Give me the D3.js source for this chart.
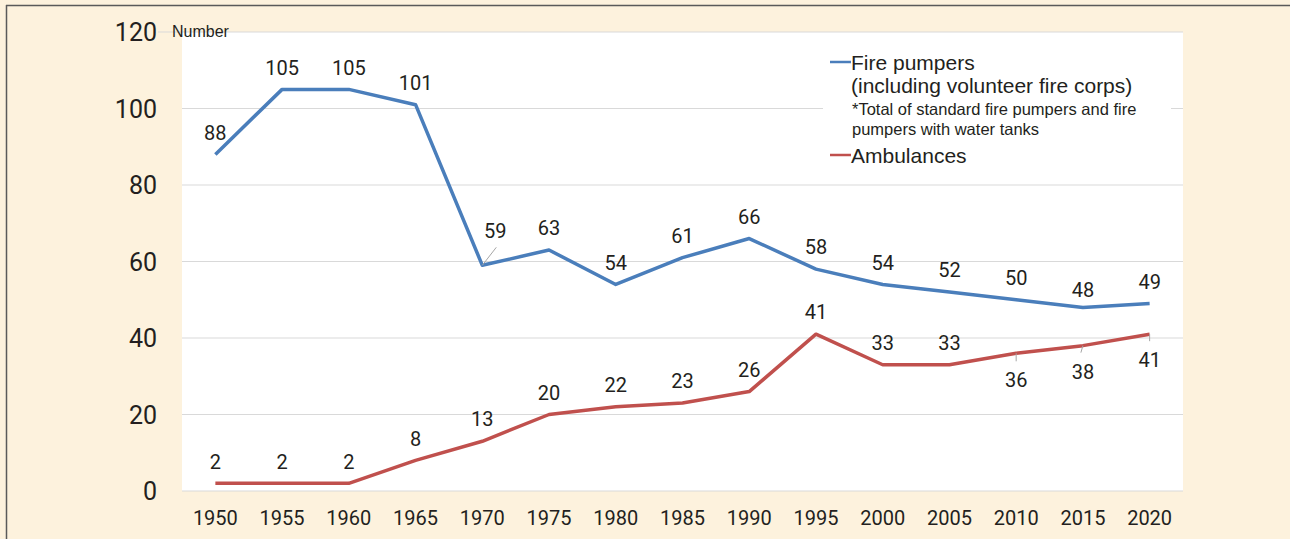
<!DOCTYPE html>
<meta charset="utf-8">
<style>
  body { margin: 0; background: #fdf2dd; }
  svg { display: block; }
  text { font-family: Roboto, "Liberation Sans", Arial, sans-serif; fill: #231f20; }
  .lab { font-family: "Liberation Sans", Arial, Helvetica, sans-serif; }
</style>
<body>
<div id="chart"></div>
<script src="https://d3js.org/d3.v7.min.js"></script>
<script>

var years = ["1950","1955","1960","1965","1970","1975","1980","1985","1990","1995","2000","2005","2010","2015","2020"];
var firePumpers = [88,105,105,101,59,63,54,61,66,58,54,52,50,48,49];
var ambulances = [2,2,2,8,13,20,22,23,26,41,33,33,36,38,41];
var yTicks = [0,20,40,60,80,100,120];

var W = 1290, H = 539;
var plot = {left: 182, right: 1183, top: 32, bottom: 491};

var svg = d3.select("#chart").append("svg")
    .attr("width", W)
    .attr("height", H);

// frame
svg.append("rect").attr("x", 0).attr("y", 0).attr("width", W).attr("height", H).attr("fill", "#fdf2dd");
svg.append("line").attr("x1", 6).attr("x2", W).attr("y1", 5.5).attr("y2", 5.5).attr("stroke", "#5a5a5a").attr("stroke-width", 1.5);
svg.append("line").attr("x1", 6.5).attr("x2", 6.5).attr("y1", 5).attr("y2", H).attr("stroke", "#5a5a5a").attr("stroke-width", 1.5);

// plot area
svg.append("rect")
    .attr("x", plot.left).attr("y", plot.top)
    .attr("width", plot.right - plot.left).attr("height", plot.bottom - plot.top)
    .attr("fill", "#ffffff");

var x = d3.scaleBand()
    .domain(years)
    .range([plot.left, plot.right]);
var cx = function(d) { return x(d) + x.bandwidth() / 2; };

var y = d3.scaleLinear()
    .domain([0, 120])
    .range([plot.bottom, plot.top]);

// grid lines
svg.append("g").selectAll("line")
  .data(yTicks)
  .enter().append("line")
    .attr("x1", function(d) { return d == 120 ? 158 : plot.left; })
    .attr("x2", plot.right)
    .attr("y1", function(d) { return y(d); })
    .attr("y2", function(d) { return y(d); })
    .attr("stroke", "#d9d9d9")
    .attr("stroke-width", 1);

// y axis labels
svg.append("g").selectAll("text")
  .data(yTicks)
  .enter().append("text")
    .attr("x", 157)
    .attr("y", function(d) { return y(d); })
    .attr("dy", "0.36em")
    .attr("text-anchor", "end")
    .style("font-size", "25px")
    .text(function(d) { return d; });

svg.append("text")
    .attr("class", "lab")
    .attr("x", 172).attr("y", 37)
    .style("font-size", "16px")
    .text("Number");

// x axis labels
svg.append("g").selectAll("text")
  .data(years)
  .enter().append("text")
    .attr("x", cx)
    .attr("y", 525)
    .attr("text-anchor", "middle")
    .style("font-size", "20px")
    .text(function(d) { return d; });

// legend background hides the grid
svg.append("rect")
    .attr("x", 823).attr("y", 44)
    .attr("width", 348).attr("height", 130)
    .attr("fill", "#ffffff");

var series = [
  {name: "fire", values: firePumpers, color: "#4a7ebb"},
  {name: "amb", values: ambulances, color: "#c0504d"}
];

var line = d3.line()
    .x(function(d, i) { return cx(years[i]); })
    .y(function(d) { return y(d); });

series.forEach(function(s) {
  svg.append("path")
    .datum(s.values)
    .attr("d", line)
    .attr("fill", "none")
    .attr("stroke", s.color)
    .attr("stroke-width", 3.5)
    .attr("stroke-linejoin", "round");
});

// leader lines
function leader(year, v, dx, dy) {
  svg.append("line")
    .attr("x1", cx(year)).attr("y1", y(v))
    .attr("x2", cx(year) + dx).attr("y2", y(v) + dy)
    .attr("stroke", "#a6a6a6").attr("stroke-width", 1);
}
leader("1970", 59, 14, -18);
leader("2010", ambulances[12], 0, 8);
leader("2015", ambulances[13], -2, 7);
leader("2020", ambulances[14], 0, 7);

// data labels
svg.append("g").selectAll("text")
  .data(firePumpers)
  .enter().append("text")
    .attr("x", function(d, i) { return cx(years[i]) + (years[i] == "1970" ? 13 : 0); })
    .attr("y", function(d, i) {
      var off = -22;
      if (years[i] == "1970") off = -35;
      if (years[i] == "2015") off = -18;
      return y(d) + off;
    })
    .attr("dy", "0.36em")
    .attr("text-anchor", "middle")
    .style("font-size", "20px")
    .text(function(d) { return d; });

svg.append("g").selectAll("text")
  .data(ambulances)
  .enter().append("text")
    .attr("x", function(d, i) { return cx(years[i]); })
    .attr("y", function(d, i) {
      var off = i >= 12 ? 26 : -22;
      return y(d) + off;
    })
    .attr("dy", "0.36em")
    .attr("text-anchor", "middle")
    .style("font-size", "20px")
    .text(function(d) { return d; });

// legend
var lg = svg.append("g").attr("class", "legend");
lg.append("line").attr("x1", 830).attr("x2", 851).attr("y1", 62).attr("y2", 62)
  .attr("stroke", "#4a7ebb").attr("stroke-width", 2.5);
lg.append("text").attr("class", "lab").attr("x", 851).attr("y", 69.5).style("font-size", "21px").text("Fire pumpers");
lg.append("text").attr("class", "lab").attr("x", 851).attr("y", 93).style("font-size", "21px").text("(including volunteer fire corps)");
lg.append("text").attr("class", "lab").attr("x", 852).attr("y", 115).style("font-size", "16.5px").text("*Total of standard fire pumpers and fire");
lg.append("text").attr("class", "lab").attr("x", 852).attr("y", 135).style("font-size", "16.5px").text("pumpers with water tanks");
lg.append("line").attr("x1", 830).attr("x2", 851).attr("y1", 155).attr("y2", 155)
  .attr("stroke", "#c0504d").attr("stroke-width", 2.5);
lg.append("text").attr("class", "lab").attr("x", 851).attr("y", 162.5).style("font-size", "21px").text("Ambulances");

</script>
</body>
